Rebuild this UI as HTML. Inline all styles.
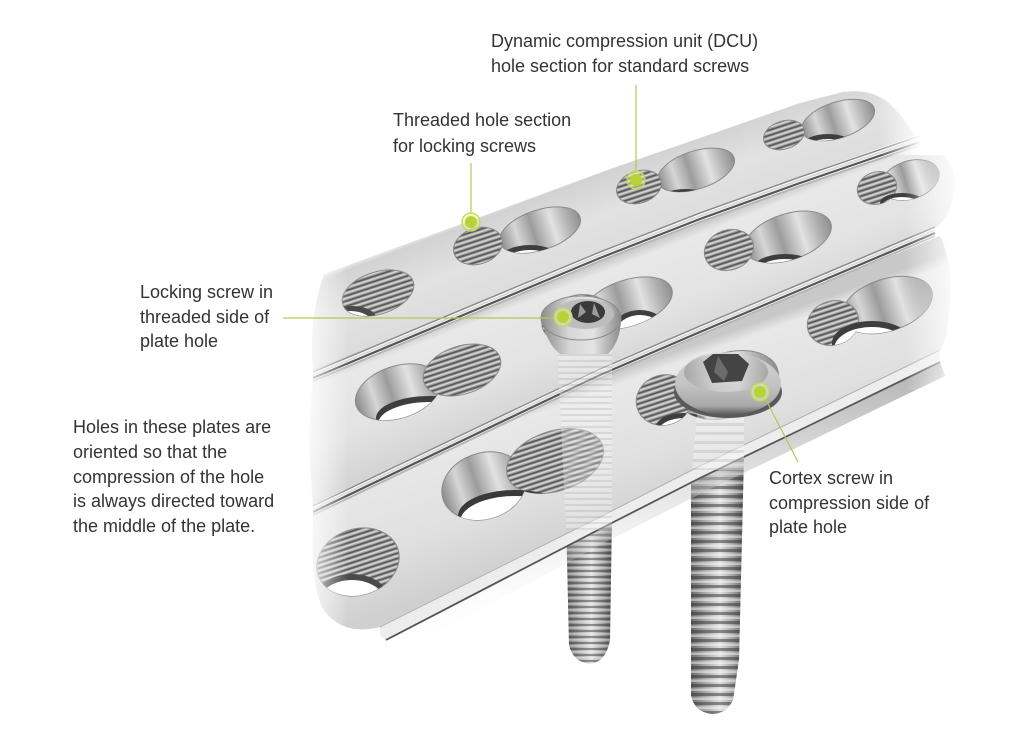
<!DOCTYPE html>
<html><head><meta charset="utf-8"><style>
html,body{margin:0;padding:0;background:#fff;}
svg{display:block;}
text{font-family:"Liberation Sans",Arial,sans-serif;font-size:18px;fill:#333;}
</style></head><body>
<svg width="1024" height="738" viewBox="0 0 1024 738" xmlns="http://www.w3.org/2000/svg">
<defs>
<linearGradient id="pa" gradientUnits="userSpaceOnUse" x1="600" y1="168" x2="632" y2="252">
<stop offset="0" stop-color="#f0f0f0"/><stop offset="0.06" stop-color="#d2d2d2"/><stop offset="0.5" stop-color="#e2e2e2"/><stop offset="0.94" stop-color="#dcdcdc"/><stop offset="1" stop-color="#c8c8c8"/>
</linearGradient>
<linearGradient id="pb" gradientUnits="userSpaceOnUse" x1="600" y1="261" x2="642" y2="368">
<stop offset="0" stop-color="#c6c6c6"/><stop offset="0.1" stop-color="#e8e8e8"/><stop offset="0.6" stop-color="#e3e3e3"/><stop offset="1" stop-color="#d4d4d4"/>
</linearGradient>
<linearGradient id="pc" gradientUnits="userSpaceOnUse" x1="600" y1="378" x2="650" y2="517">
<stop offset="0" stop-color="#c8c8c8"/><stop offset="0.08" stop-color="#e8e8e8"/><stop offset="0.6" stop-color="#e0e0e0"/><stop offset="1" stop-color="#d0d0d0"/>
</linearGradient>
<linearGradient id="dcu" x1="0" y1="0" x2="1" y2="0">
<stop offset="0" stop-color="#8a8a8a"/><stop offset="0.22" stop-color="#d6d6d6"/><stop offset="0.42" stop-color="#9c9c9c"/><stop offset="0.66" stop-color="#e2e2e2"/><stop offset="0.85" stop-color="#b0b0b0"/><stop offset="1" stop-color="#8e8e8e"/>
</linearGradient>
<pattern id="thr" x="0" y="0" width="20" height="5" patternUnits="userSpaceOnUse">
<rect width="20" height="5" fill="#a4a4a4"/><rect y="0" width="20" height="1.7" fill="#5a5a5a"/><rect y="2.6" width="20" height="1.2" fill="#dcdcdc"/>
</pattern>
<linearGradient id="shaft" x1="0" y1="0" x2="1" y2="0">
<stop offset="0" stop-color="#6a6a6a"/><stop offset="0.3" stop-color="#b0b0b0"/><stop offset="0.55" stop-color="#e0e0e0"/><stop offset="0.8" stop-color="#a0a0a0"/><stop offset="1" stop-color="#5e5e5e"/>
</linearGradient>
<pattern id="lt" width="20" height="6" patternUnits="userSpaceOnUse">
<rect width="20" height="2" fill="#2e2e2e" opacity=".45"/><rect y="3.2" width="20" height="1.4" fill="#fff" opacity=".45"/>
</pattern>
<pattern id="ct" width="20" height="9" patternUnits="userSpaceOnUse">
<rect width="20" height="3" fill="#2e2e2e" opacity=".5"/><rect y="4.5" width="20" height="2.5" fill="#fff" opacity=".45"/>
</pattern>
<linearGradient id="head" x1="0" y1="0" x2="1" y2="0">
<stop offset="0" stop-color="#8c8c8c"/><stop offset="0.35" stop-color="#d6d6d6"/><stop offset="0.65" stop-color="#e4e4e4"/><stop offset="1" stop-color="#8a8a8a"/>
</linearGradient>
<linearGradient id="dome" x1="0" y1="0" x2="0" y2="1">
<stop offset="0" stop-color="#d0d0d0"/><stop offset="0.5" stop-color="#c4c4c4"/><stop offset="0.85" stop-color="#a8a8a8"/><stop offset="1" stop-color="#5a5a5a"/>
</linearGradient>
<linearGradient id="fadeL" x1="0" y1="0" x2="1" y2="0">
<stop offset="0" stop-color="#fff" stop-opacity=".95"/><stop offset="1" stop-color="#fff" stop-opacity="0"/>
</linearGradient>
<linearGradient id="fadeR" x1="0" y1="0" x2="1" y2="0">
<stop offset="0" stop-color="#fff" stop-opacity="0"/><stop offset="1" stop-color="#fff" stop-opacity="1"/>
</linearGradient>
<linearGradient id="under" x1="0" y1="0" x2="0" y2="1">
<stop offset="0" stop-color="#9a9a9a"/><stop offset="1" stop-color="#fff" stop-opacity="0"/>
</linearGradient>

<clipPath id="cA1"><ellipse cx="378" cy="293" rx="37" ry="21" transform="rotate(-18 378 293)"/></clipPath>
<clipPath id="cA2"><ellipse cx="540" cy="230" rx="42" ry="20" transform="rotate(-18 540 230)"/><ellipse cx="478" cy="246" rx="25" ry="18" transform="rotate(-18 478 246)"/></clipPath>
<clipPath id="cA3"><ellipse cx="696" cy="170" rx="40" ry="19" transform="rotate(-18 696 170)"/><ellipse cx="639" cy="187" rx="23" ry="16" transform="rotate(-18 639 187)"/></clipPath>
<clipPath id="cA4"><ellipse cx="838" cy="120" rx="38" ry="18" transform="rotate(-18 838 120)"/><ellipse cx="784" cy="135" rx="21" ry="14" transform="rotate(-18 784 135)"/></clipPath>
<clipPath id="cB1"><ellipse cx="398" cy="392" rx="44" ry="26" transform="rotate(-18 398 392)"/><ellipse cx="462" cy="370" rx="40" ry="24" transform="rotate(-18 462 370)"/></clipPath>
<clipPath id="cB2"><ellipse cx="628" cy="303" rx="46" ry="23" transform="rotate(-18 628 303)"/><ellipse cx="575" cy="318" rx="34" ry="22" transform="rotate(-18 575 318)"/></clipPath>
<clipPath id="cB3"><ellipse cx="788" cy="237" rx="45" ry="23" transform="rotate(-18 788 237)"/><ellipse cx="729" cy="250" rx="25" ry="20" transform="rotate(-18 729 250)"/></clipPath>
<clipPath id="cB4"><ellipse cx="910" cy="180" rx="30" ry="19" transform="rotate(-18 910 180)"/><ellipse cx="877" cy="188" rx="20" ry="16" transform="rotate(-18 877 188)"/></clipPath>
<clipPath id="cC1"><ellipse cx="358" cy="562" rx="42" ry="33" transform="rotate(-18 358 562)"/></clipPath>
<clipPath id="cC2"><ellipse cx="484" cy="486" rx="43" ry="33" transform="rotate(-18 484 486)"/><ellipse cx="555" cy="461" rx="50" ry="30" transform="rotate(-18 555 461)"/></clipPath>
<clipPath id="cC3"><ellipse cx="664" cy="400" rx="28" ry="25" transform="rotate(-18 664 400)"/><ellipse cx="728" cy="385" rx="52" ry="32" transform="rotate(-18 728 385)"/></clipPath>
<clipPath id="cC4"><ellipse cx="887" cy="305" rx="47" ry="26" transform="rotate(-18 887 305)"/><ellipse cx="833" cy="323" rx="26" ry="22" transform="rotate(-18 833 323)"/></clipPath>
</defs>

<rect width="1024" height="738" fill="#fff"/>

<!-- screw shafts below plate -->
<path d="M566,515 L612,515 L610,640 Q606,662 590,664 Q573,662 569,645 Z" fill="url(#shaft)"/>
<path d="M566,515 L612,515 L610,640 Q606,662 590,664 Q573,662 569,645 Z" fill="url(#lt)"/>
<path d="M691,455 L744,455 L739,660 L733,700 Q726,714 712,714 Q694,712 691,695 Z" fill="url(#shaft)"/>
<path d="M691,455 L744,455 L739,660 L733,700 Q726,714 712,714 Q694,712 691,695 Z" fill="url(#ct)"/>

<!-- plate C underside -->
<path d="M386,641 L600,529 L700,478 L800,430 L940,362 L945,376 L800,446 L700,494 L600,545 L395,656 Q385,652 386,641 Z" fill="url(#under)" opacity=".8"/>

<!-- plates -->
<path d="M324,274 L480,217 L613,168 L700,138 L800,103 L843,92 Q872,88 890,104 Q905,118 915,136 L800,176 L700,212 L600,251 L480,301 L313,371 Q308,320 324,274 Z" fill="url(#pa)"/>
<path d="M313,381 L480,311 L600,261 L700,222 L800,186 L925,144 Q950,150 955,180 Q955,210 938,226 L800,283 L700,325 L600,368 L520,406 L313,505 Q306,440 313,381 Z" fill="url(#pb)"/>
<path d="M313,515 L520,416 L600,378 L700,335 L800,293 L940,236 Q952,260 950,300 Q948,340 940,350 L800,418 L700,466 L600,517 L380,627 Q345,636 325,612 Q310,590 313,515 Z" fill="url(#pc)"/>

<!-- plate C bevel -->
<path d="M380,627 L600,517 L700,466 L800,418 L940,350 L940,362 L800,430 L700,478 L600,529 L386,640 Q378,636 380,627 Z" fill="#ededed"/>
<polyline points="386,640 600,529 700,478 800,430 940,362" fill="none" stroke="#555" stroke-width="1.8"/>
<polyline points="380,627 600,517 700,466 800,418 940,350" fill="none" stroke="#b0b0b0" stroke-width="1"/>

<!-- grooves -->
<g fill="none">
<polyline points="313,376 480,306 600,256 700,217 800,181 920,140" transform="translate(0,-4)" stroke="#8a8a8a" stroke-width="1.5"/>
<polyline points="313,376 480,306 600,256 700,217 800,181 920,140" transform="translate(0,-1)" stroke="#d8d8d8" stroke-width="2"/>
<polyline points="313,376 480,306 600,256 700,217 800,181 920,140" transform="translate(0,2)" stroke="#555" stroke-width="2.2"/>
<polyline points="313,376 480,306 600,256 700,217 800,181 920,140" transform="translate(0,5)" stroke="#b6b6b6" stroke-width="2"/>
<polyline points="313,510 520,411 600,373 700,330 800,288 935,231" transform="translate(0,-4)" stroke="#8a8a8a" stroke-width="1.5"/>
<polyline points="313,510 520,411 600,373 700,330 800,288 935,231" transform="translate(0,-1)" stroke="#d8d8d8" stroke-width="2"/>
<polyline points="313,510 520,411 600,373 700,330 800,288 935,231" transform="translate(0,2)" stroke="#555" stroke-width="2.2"/>
<polyline points="313,510 520,411 600,373 700,330 800,288 935,231" transform="translate(0,5)" stroke="#b6b6b6" stroke-width="2"/>
</g>

<!-- holes -->
<g stroke="#8a8a8a" stroke-width="1">
<ellipse cx="378" cy="293" rx="37" ry="21" transform="rotate(-18 378 293)" fill="url(#thr)"/>
<g clip-path="url(#cA1)" stroke="none"><ellipse cx="352" cy="318" rx="24" ry="12" fill="#4a4a4a"/><ellipse cx="350" cy="323" rx="22" ry="12" fill="#fff"/></g>
<ellipse cx="540" cy="230" rx="42" ry="20" transform="rotate(-18 540 230)" fill="url(#dcu)"/>
<ellipse cx="478" cy="246" rx="25" ry="18" transform="rotate(-18 478 246)" fill="url(#thr)"/>
<g clip-path="url(#cA2)" stroke="none"><ellipse cx="530" cy="259" rx="30" ry="14" fill="#3e3e3e"/><ellipse cx="530" cy="264" rx="28" ry="14" fill="#fff"/></g>
<ellipse cx="696" cy="170" rx="40" ry="19" transform="rotate(-18 696 170)" fill="url(#dcu)"/>
<ellipse cx="639" cy="187" rx="23" ry="16" transform="rotate(-18 639 187)" fill="url(#thr)"/>
<g clip-path="url(#cA3)" stroke="none"><ellipse cx="686" cy="202" rx="30" ry="13" fill="#3e3e3e"/><ellipse cx="686" cy="207" rx="28" ry="13" fill="#fff"/></g>
<ellipse cx="838" cy="120" rx="38" ry="18" transform="rotate(-18 838 120)" fill="url(#dcu)"/>
<ellipse cx="784" cy="135" rx="21" ry="14" transform="rotate(-18 784 135)" fill="url(#thr)"/>
<g clip-path="url(#cA4)" stroke="none"><ellipse cx="828" cy="146" rx="26" ry="12" fill="#3e3e3e"/><ellipse cx="828" cy="151" rx="24" ry="12" fill="#fff"/></g>
<ellipse cx="398" cy="392" rx="44" ry="26" transform="rotate(-18 398 392)" fill="url(#dcu)"/>
<ellipse cx="462" cy="370" rx="40" ry="24" transform="rotate(-18 462 370)" fill="url(#thr)"/>
<g clip-path="url(#cB1)" stroke="none"><ellipse cx="430" cy="418" rx="54" ry="22" fill="#3e3e3e"/><ellipse cx="430" cy="424" rx="52" ry="22" fill="#fff"/></g>
<ellipse cx="628" cy="303" rx="46" ry="23" transform="rotate(-18 628 303)" fill="url(#dcu)"/>
<ellipse cx="575" cy="318" rx="34" ry="22" transform="rotate(-18 575 318)" fill="url(#thr)"/>
<g clip-path="url(#cB2)" stroke="none"><ellipse cx="640" cy="328" rx="26" ry="18" fill="#3e3e3e"/><ellipse cx="640" cy="333" rx="24" ry="18" fill="#fff"/></g>
<ellipse cx="788" cy="237" rx="45" ry="23" transform="rotate(-18 788 237)" fill="url(#dcu)"/>
<ellipse cx="729" cy="250" rx="25" ry="20" transform="rotate(-18 729 250)" fill="url(#thr)"/>
<g clip-path="url(#cB3)" stroke="none"><ellipse cx="785" cy="269" rx="32" ry="15" fill="#3e3e3e"/><ellipse cx="785" cy="274" rx="30" ry="15" fill="#fff"/></g>
<ellipse cx="910" cy="180" rx="30" ry="19" transform="rotate(-18 910 180)" fill="url(#dcu)"/>
<ellipse cx="877" cy="188" rx="20" ry="16" transform="rotate(-18 877 188)" fill="url(#thr)"/>
<g clip-path="url(#cB4)" stroke="none"><ellipse cx="902" cy="203" rx="22" ry="10" fill="#3e3e3e"/><ellipse cx="902" cy="207" rx="20" ry="10" fill="#fff"/></g>
<ellipse cx="358" cy="562" rx="42" ry="33" transform="rotate(-18 358 562)" fill="url(#thr)"/>
<g clip-path="url(#cC1)" stroke="none"><ellipse cx="352" cy="598" rx="36" ry="24" fill="#4a4a4a"/><ellipse cx="352" cy="604" rx="34" ry="24" fill="#fff"/></g>
<ellipse cx="484" cy="486" rx="43" ry="33" transform="rotate(-18 484 486)" fill="url(#dcu)"/>
<ellipse cx="555" cy="461" rx="50" ry="30" transform="rotate(-18 555 461)" fill="url(#thr)"/>
<g clip-path="url(#cC2)" stroke="none"><ellipse cx="515" cy="516" rx="57" ry="26" fill="#3a3a3a"/><ellipse cx="515" cy="522" rx="55" ry="26" fill="#fff"/></g>
<ellipse cx="728" cy="385" rx="52" ry="32" transform="rotate(-18 728 385)" fill="url(#dcu)"/>
<ellipse cx="664" cy="400" rx="28" ry="25" transform="rotate(-18 664 400)" fill="url(#thr)"/>
<g clip-path="url(#cC3)" stroke="none"><ellipse cx="684" cy="427" rx="28" ry="14" fill="#3e3e3e"/><ellipse cx="684" cy="432" rx="26" ry="14" fill="#fff"/></g>
<ellipse cx="887" cy="305" rx="47" ry="26" transform="rotate(-18 887 305)" fill="url(#dcu)"/>
<ellipse cx="833" cy="323" rx="26" ry="22" transform="rotate(-18 833 323)" fill="url(#thr)"/>
<g clip-path="url(#cC4)" stroke="none"><ellipse cx="872" cy="343" rx="40" ry="22" fill="#3e3e3e"/><ellipse cx="872" cy="349" rx="38" ry="22" fill="#fff"/></g>
</g>

<!-- ghost shafts through plates -->
<path d="M557,340 L612,340 L612,530 L566,530 Z" fill="#f6f6f6" opacity=".35"/>
<path d="M557,340 L612,340 L612,530 L566,530 Z" fill="url(#lt)" opacity=".22"/>
<path d="M698,405 L744,405 L744,470 L692,470 Z" fill="#f6f6f6" opacity=".45"/>
<path d="M698,405 L744,405 L744,470 L692,470 Z" fill="url(#ct)" opacity=".2"/>

<!-- locking screw head -->
<path d="M542,320 Q547,344 560,354 L608,354 Q620,342 621,320 Z" fill="url(#head)"/>
<ellipse cx="581" cy="318" rx="40" ry="22" fill="url(#head)" stroke="#8a8a8a" stroke-width="1"/>
<ellipse cx="585" cy="314" rx="29" ry="15" fill="#bdbdbd"/>
<ellipse cx="588" cy="312" rx="17" ry="11" fill="#3a3a3a"/>
<path d="M580,304 L586,312 L578,318 Z M594,303 L592,314 L600,318 Z" fill="#9a9a9a"/>

<!-- cortex screw head -->
<ellipse cx="728" cy="392" rx="54" ry="26" fill="#5a5a5a"/>
<ellipse cx="728" cy="384" rx="53" ry="31" fill="url(#dome)"/>
<ellipse cx="726" cy="372" rx="42" ry="20" fill="url(#head)" opacity=".55"/>
<path d="M703,362 L713,354 L738,354 L749,364 L742,381 L712,383 Z" fill="#444"/>
<path d="M718,356 L728,372 L724,381 L714,372 Z" fill="#6c6c6c"/>

<!-- fades -->
<rect x="300" y="250" width="48" height="420" fill="url(#fadeL)"/>
<rect x="880" y="80" width="42" height="75" fill="url(#fadeR)"/>
<rect x="921" y="80" width="103" height="75" fill="#fff"/>
<rect x="905" y="150" width="60" height="240" fill="url(#fadeR)"/>
<rect x="964" y="150" width="60" height="240" fill="#fff"/>

<!-- leaders -->
<g stroke="#b0c955" stroke-width="1.2" fill="none">
<line x1="636" y1="85" x2="636" y2="172"/>
<line x1="471" y1="163" x2="471" y2="214"/>
<line x1="283" y1="318" x2="555" y2="318"/>
<line x1="765" y1="398" x2="798" y2="462"/>
</g>
<g>
<circle cx="636" cy="180" r="9" fill="#e6f2a8" fill-opacity=".5" stroke="#c2da55" stroke-width="1.3"/><circle cx="636" cy="180" r="6" fill="#b8d434"/>
<circle cx="471" cy="222" r="9" fill="#e6f2a8" fill-opacity=".5" stroke="#c2da55" stroke-width="1.3"/><circle cx="471" cy="222" r="6" fill="#b8d434"/>
<circle cx="563" cy="317" r="9" fill="#e6f2a8" fill-opacity=".5" stroke="#c2da55" stroke-width="1.3"/><circle cx="563" cy="317" r="6" fill="#b8d434"/>
<circle cx="760" cy="392" r="9" fill="#e6f2a8" fill-opacity=".5" stroke="#c2da55" stroke-width="1.3"/><circle cx="760" cy="392" r="6" fill="#b8d434"/>
</g>

<!-- labels -->
<text x="491" y="47">Dynamic compression unit (DCU)</text>
<text x="491" y="72">hole section for standard screws</text>
<text x="393" y="126">Threaded hole section</text>
<text x="393" y="152">for locking screws</text>
<text x="140" y="298">Locking screw in</text>
<text x="140" y="323">threaded side of</text>
<text x="140" y="347">plate hole</text>
<text x="73" y="433">Holes in these plates are</text>
<text x="73" y="458">oriented so that the</text>
<text x="73" y="483">compression of the hole</text>
<text x="73" y="507">is always directed toward</text>
<text x="73" y="532">the middle of the plate.</text>
<text x="769" y="484">Cortex screw in</text>
<text x="769" y="509">compression side of</text>
<text x="769" y="533">plate hole</text>
</svg>
</body></html>
